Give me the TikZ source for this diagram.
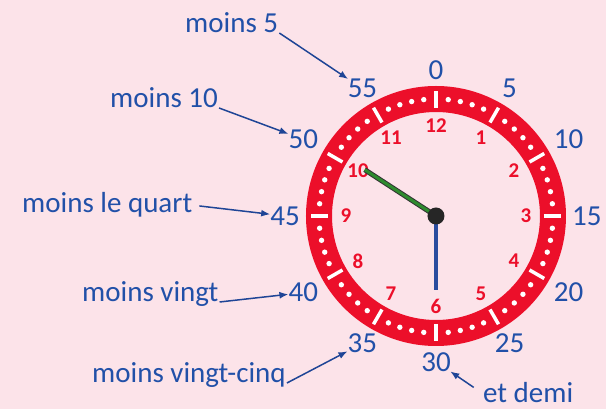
\documentclass[tikz,border=0pt]{standalone}
\usepackage{fontspec}
\setmainfont{Carlito}
\usetikzlibrary{arrows.meta}

\begin{document}
\begin{tikzpicture}[x=1pt, y=1pt,
    minLabel/.style={text=minuteBlue, font=\fontsize{29}{32}\selectfont, inner sep=0pt},
    hourLabel/.style={text=ringRed, font=\fontsize{21}{24}\selectfont\bfseries, inner sep=0pt},
    phrase/.style={text=minuteBlue, font=\fontsize{29}{32}\selectfont, inner sep=1pt},
    pointer/.style={-{Latex[length=9pt,width=7pt]}, draw=arrowBlue, line width=1.5pt}]
    \def\outerR{130}
    \def\innerR{104}

    \definecolor{bgPink}{HTML}{FCE3E9}
    \definecolor{ringRed}{HTML}{EC0F2A}
    \definecolor{minuteBlue}{HTML}{2150A8}
    \definecolor{arrowBlue}{HTML}{1F4596}
    \definecolor{handGreen}{HTML}{2E8B2E}
    \definecolor{handBlue}{HTML}{2A4C9E}

    % Background
    \useasboundingbox (-436,-193) rectangle (170,216);
    \fill[bgPink] (-436,-193) rectangle (170,216);

    % Draw ring
    \fill[ringRed, even odd rule] (0,0) circle (\outerR) (0,0) circle (\innerR);
    \foreach \m in {0,5,...,55}
        \draw[white, line width=3.5pt] ({90-6*\m}:108) -- ({90-6*\m}:125);
    \foreach \h in {0,...,11}
        \foreach \k in {1,...,4}
            \fill[white] ({90-30*\h-6*\k}:117) circle (2.7);

    % Hour numbers
    \foreach \h in {1,...,12}
        \node[hourLabel] (h\h) at ({90-30*\h}:90) {\h};

    % Minute numbers
    \foreach \m in {0,5,...,55} {
        \pgfmathtruncatemacro{\anc}{mod(630-6*\m,360)}
        \node[minLabel, anchor=\anc] (m\m) at ({90-6*\m}:136) {\m};
    }

    % Hands
    \coordinate (pivot) at (0,0);
    \coordinate (hourTip) at (147:85);
    \coordinate (minTip) at (270:74);
    \draw[black!80, line width=5pt] (pivot) -- (hourTip);
    \draw[handGreen, line width=3pt] (pivot) -- (hourTip);
    \draw[handBlue, line width=4pt] (pivot) -- (minTip);
    \fill[black!85] (pivot) circle (8.5);

    % Phrases
    \node[phrase, anchor=base west] (t55) at (-252,183) {moins 5};
    \node[phrase, anchor=base west] (t50) at (-327,108) {moins 10};
    \node[phrase, anchor=base west] (t45) at (-415,3) {moins le quart};
    \node[phrase, anchor=base west] (t40) at (-355,-86) {moins vingt};
    \node[phrase, anchor=base west] (t35) at (-345,-167) {moins vingt-cinq};
    \node[phrase, anchor=base west] (t30) at (46,-187) {et demi};

    % Arrows
    \draw[pointer] (t55.base east) -- (m55);
    \draw[pointer] (t50.base east) -- (m50);
    \draw[pointer, shorten <=6pt] (t45.east) -- (m45);
    \draw[pointer] (t40.base east) -- (m40);
    \draw[pointer] (t35.base east) -- (m35);
    \draw[pointer, shorten <=10pt] (t30.west) -- (m30);

\end{tikzpicture}
\end{document}
